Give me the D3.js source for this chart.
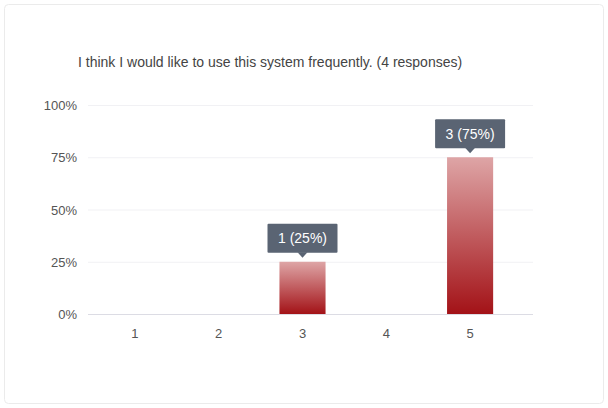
<!DOCTYPE html><html><head><meta charset="utf-8"><script src="https://cdn.jsdelivr.net/npm/d3@7"></script>
<style>body{margin:0;background:#fff;font-family:"Liberation Sans",Arial,sans-serif}</style></head><body><script>
const categories=["1","2","3","4","5"];
const counts=[0,0,1,0,3];
const total=4;
const yTicks=[0,25,50,75,100];
const title="I think I would like to use this system frequently. (4 responses)";
const W=608,H=408;
const svg=d3.select("body").append("svg").attr("width",W).attr("height",H);
const defs=svg.append("defs");
const g=defs.append("linearGradient").attr("id","gr").attr("x1",0).attr("y1",0).attr("x2",0).attr("y2",1);
g.append("stop").attr("offset","0%").attr("stop-color","#dea5a6");
g.append("stop").attr("offset","100%").attr("stop-color","#a31217");
svg.append("rect").attr("x",4.5).attr("y",4.5).attr("width",599).attr("height",399).attr("rx",4).attr("fill","#fff").attr("stroke","#ebebeb");
svg.append("text").attr("x",78).attr("y",67).attr("font-size",14).attr("fill","#444").text(title);
const x=d3.scaleBand().domain(categories).range([93,512]).paddingInner(0.45).paddingOuter(0.225);
const y=d3.scaleLinear().domain([0,100]).range([314,105]);
yTicks.forEach(t=>{
 svg.append("line").attr("x1",88).attr("x2",533).attr("y1",y(t)+0.5).attr("y2",y(t)+0.5).attr("stroke",t===0?"#dcdce4":"#f1f1f4");
 svg.append("text").attr("x",77).attr("y",y(t)+5).attr("text-anchor","end").attr("font-size",13).attr("fill","#555").text(t+"%");
});
categories.forEach((c,i)=>{
 svg.append("text").attr("x",x(c)+x.bandwidth()/2).attr("y",338).attr("text-anchor","middle").attr("font-size",13).attr("fill","#555").text(c);
 const p=counts[i]/total*100;
 if(!counts[i])return;
 svg.append("rect").attr("x",x(c)).attr("y",y(p)).attr("width",x.bandwidth()).attr("height",y(0)-y(p)).attr("fill","url(#gr)");
 const cx=x(c)+x.bandwidth()/2, by=y(p)-3;
 svg.append("rect").attr("x",cx-35).attr("y",by-35).attr("width",70).attr("height",29).attr("rx",1).attr("fill","#5a6473");
 svg.append("path").attr("d",`M${cx-5},${by-6.5}L${cx},${by-1}L${cx+5},${by-6.5}Z`).attr("fill","#5a6473");
 svg.append("text").attr("x",cx).attr("y",by-15.5).attr("text-anchor","middle").attr("font-size",14).attr("fill","#fff").text(`${counts[i]} (${p}%)`);
});
</script></body></html>
